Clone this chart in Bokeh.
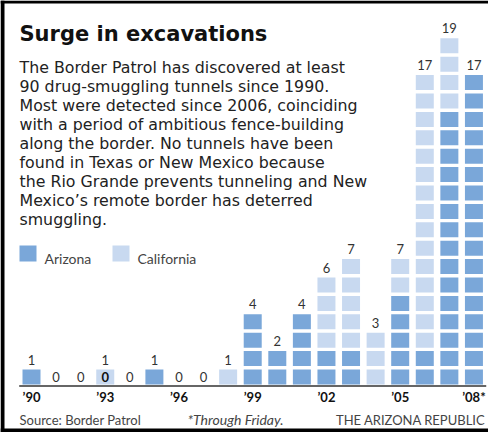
from bokeh.plotting import figure
from bokeh.models import Range1d, ColumnDataSource
from bokeh.core.properties import value
from bokeh.embed import file_html
from bokeh.resources import INLINE

# ---------------- data ----------------
years = list(range(1990, 2009))
arizona = [1, 0, 0, 0, 0, 1, 0, 0, 0, 4, 2, 4, 2, 2, 0, 5, 2, 15, 17]
california = [0, 0, 0, 1, 0, 0, 0, 0, 1, 0, 0, 0, 4, 5, 3, 2, 15, 4, 0]
tick_years = [1990, 1993, 1996, 1999, 2002, 2005, 2008]
tick_labels = ["\u201990", "\u201993", "\u201996", "\u201999", "\u201902", "\u201905", "\u201908*"]

title = "Surge in excavations"
body = [
    "The Border Patrol has discovered at least",
    "90 drug-smuggling tunnels since 1990.",
    "Most were detected since 2006, coinciding",
    "with a period of ambitious fence-building",
    "along the border. No tunnels have been",
    "found in Texas or New Mexico because",
    "the Rio Grande prevents tunneling and New",
    "Mexico\u2019s remote border has deterred",
    "smuggling.",
]
legend_labels = ["Arizona", "California"]
source_note = "Source: Border Patrol"
foot_note = "*Through Friday."
credit = "THE ARIZONA REPUBLIC"

# ---------------- style / geometry ----------------
AZ_COLOR = "#7aa7d9"
CA_COLOR = "#c8d9f0"
TEXT = "#222222"
GREY = "#444444"
FONT = "Lato"
BODY_FONT = "DejaVu Sans"

W, H = 488, 432
COL0_X = 31.0      # canvas x of the first column centre
COL_STEP = 24.58   # px per year
BASE_Y = 384.0     # canvas y (from top) of the bottom of the cells
ROW_STEP = 18.4    # px per tunnel
CELL_W = 18.0
CELL_H = 15.0


def dx(cx):
    return years[0] + (cx - COL0_X) / COL_STEP


def dy(cy):
    return (BASE_Y - cy) / ROW_STEP


p = figure(width=W, height=H, output_backend="svg", toolbar_location=None,
           x_range=Range1d(dx(0), dx(W)), y_range=Range1d(dy(H), dy(0)),
           min_border=0, min_border_left=0, min_border_right=0,
           min_border_top=0, min_border_bottom=0)
p.axis.visible = False
p.grid.visible = False
p.outline_line_color = None
p.background_fill_color = "white"
p.border_fill_color = "white"


def txt(x, y, s, size, color=TEXT, style="normal", align="left",
        baseline="alphabetic", font=FONT):
    p.text(x=[dx(x)], y=[dy(y)], text=[s], text_font=value(font),
           text_font_size=f"{size}px", text_font_style=style,
           text_color=color, text_align=align, text_baseline=baseline)


# ---------------- cells ----------------
cx, cy, cc = [], [], []
for yr, a, c in zip(years, arizona, california):
    for k in range(a + c):
        cx.append(yr)
        cy.append(k + CELL_H / ROW_STEP / 2)
        cc.append(AZ_COLOR if k < a else CA_COLOR)
p.rect(x="x", y="y", width=CELL_W / COL_STEP, height=CELL_H / ROW_STEP,
       fill_color="c", line_color=None,
       source=ColumnDataSource(dict(x=cx, y=cy, c=cc)))

# value labels
lx, ly, lt = [], [], []
for yr, a, c in zip(years, arizona, california):
    n = a + c
    lx.append(yr)
    lt.append(str(n))
    if n > 0:
        ly.append(n - (1 - CELL_H / ROW_STEP) + 10 / ROW_STEP)
    else:
        ly.append(CELL_H / ROW_STEP / 2)
p.text(x="x", y="y", text="t", source=ColumnDataSource(dict(x=lx, y=ly, t=lt)),
       text_font=value(FONT), text_font_size="13px", text_color="#333333",
       text_align="center", text_baseline="middle")
# stray bold zero printed inside the 1993 cell in the original
p.text(x=[1993], y=[CELL_H / ROW_STEP / 2], text=["0"], text_font=value(FONT),
       text_font_size="13px", text_font_style="bold", text_color="#111111",
       text_align="center", text_baseline="middle")

# baseline
p.line(x=[years[0] - 0.5, years[-1] + 0.5], y=[dy(BASE_Y + 1.5)] * 2,
       line_color="#333333", line_width=1.5)

# year tick labels
p.text(x=tick_years, y=[dy(396)] * len(tick_years), text=tick_labels,
       text_font=value(FONT), text_font_size="13px", text_font_style="bold",
       text_color="#111111", text_align="center", text_baseline="middle")

# ---------------- texts ----------------
txt(19, 33, title, 21, color="#111111", style="bold", font="DejaVu Sans")
for i, line in enumerate(body):
    txt(19, 67 + 19 * i, line, 15.8, font=BODY_FONT)

# legend
for (x0, label, col) in [(19, legend_labels[0], AZ_COLOR), (112, legend_labels[1], CA_COLOR)]:
    p.quad(left=[dx(x0)], right=[dx(x0 + 17)], top=[dy(245)], bottom=[dy(261)],
           fill_color=col, line_color=None)
    txt(x0 + 25, 258, label, 14, color=GREY)

# footer
txt(19, 419, source_note, 13, color=GREY)
txt(187, 419, foot_note, 14, color=GREY, style="italic")
txt(485, 419, credit, 13, color=GREY, align="right")

# frame
p.quad(left=[dx(0)], right=[dx(4)], top=[dy(0)], bottom=[dy(H)], fill_color="black", line_color=None)
p.quad(left=[dx(0)], right=[dx(W)], top=[dy(0)], bottom=[dy(3)], fill_color="black", line_color=None)
p.quad(left=[dx(0)], right=[dx(W)], top=[dy(H - 4)], bottom=[dy(H)], fill_color="black", line_color=None)

open("out.html", "w").write(file_html(p, INLINE))
